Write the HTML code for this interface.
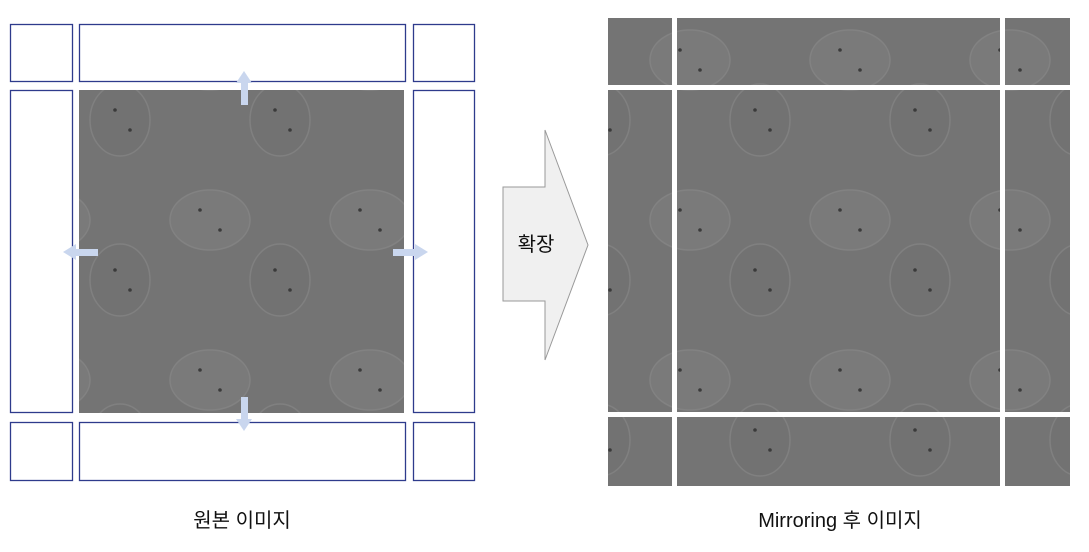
<!DOCTYPE html>
<html><head><meta charset="utf-8"><style>
body{margin:0;width:1089px;height:552px;background:#fff;overflow:hidden;font-family:"Liberation Sans","Noto Sans CJK KR",sans-serif}
svg{position:absolute;left:0;top:0}
</style></head><body>
<svg width="1089" height="552">
<defs>
<pattern id="cells" width="160" height="160" patternUnits="userSpaceOnUse">
<rect width="160" height="160" fill="#747474"/>
<ellipse cx="50" cy="60" rx="40" ry="30" fill="#7a7a7a" stroke="#828282" stroke-width="1.5"/>
<ellipse cx="120" cy="120" rx="30" ry="36" fill="#727272" stroke="#808080" stroke-width="1.5"/>
<circle cx="40" cy="50" r="1.8" fill="#3a3a3a"/><circle cx="60" cy="70" r="1.8" fill="#3a3a3a"/>
<circle cx="115" cy="110" r="1.8" fill="#3a3a3a"/><circle cx="130" cy="130" r="1.8" fill="#3a3a3a"/>
</pattern>
</defs>
<g fill="none" stroke="#2e3b8c" stroke-width="1.3">
<rect x="10.5" y="24.5" width="62" height="57"/>
<rect x="79.5" y="24.5" width="326" height="57"/>
<rect x="413.5" y="24.5" width="61" height="57"/>
<rect x="10.5" y="90.5" width="62" height="322"/>
<rect x="413.5" y="90.5" width="61" height="322"/>
<rect x="10.5" y="422.5" width="62" height="58"/>
<rect x="79.5" y="422.5" width="326" height="58"/>
<rect x="413.5" y="422.5" width="61" height="58"/>
</g>
<rect x="79" y="90" width="325" height="323" fill="url(#cells)"/>
<g fill="#c9d6ee">
<rect x="241" y="82" width="7" height="23"/><polygon points="244,71 236,83 252,83"/>
<rect x="241" y="397" width="7" height="22"/><polygon points="244,431 236,419 252,419"/>
<rect x="75" y="249" width="23" height="7"/><polygon points="63,252 76,244 76,260"/>
<rect x="393" y="249" width="23" height="7"/><polygon points="428,252 415,244 415,260"/>
</g>
<polygon points="503,187 545,187 545,130 588,245 545,360 545,301 503,301" fill="#f0f0f0" stroke="#999" stroke-width="1"/>
<text x="536" y="251" font-size="20" text-anchor="middle" fill="#111">확장</text>
<rect x="608" y="18" width="462" height="468" fill="url(#cells)"/>
<g fill="#fff">
<rect x="672" y="18" width="5" height="468"/>
<rect x="1000" y="18" width="5" height="468"/>
<rect x="608" y="85" width="462" height="5"/>
<rect x="608" y="412" width="462" height="5"/>
</g>
<text x="242" y="527" font-size="20" text-anchor="middle" fill="#111">원본 이미지</text>
<text x="840" y="527" font-size="20" text-anchor="middle" fill="#111">Mirroring 후 이미지</text>
</svg>
</body></html>
